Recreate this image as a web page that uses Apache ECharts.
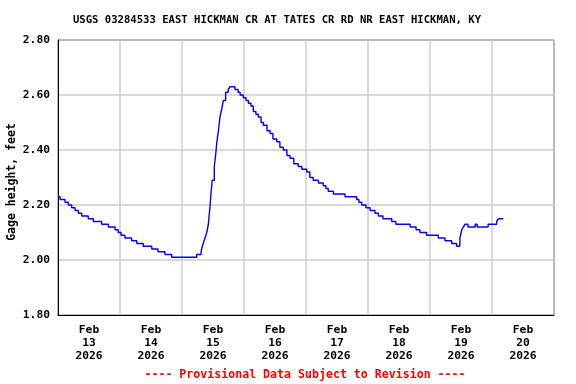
<!DOCTYPE html>
<html>
<head>
<meta charset="utf-8">
<script src="https://cdn.jsdelivr.net/npm/echarts@6/dist/echarts.min.js"></script>
<style>html,body{margin:0;padding:0;background:#fff;}#c{width:576px;height:384px;}</style>
</head>
<body>
<div id="c"></div>
<script>
// Hours since Feb 13 2026 00:00 at which the gage reading changed, and the new reading (ft)
var hours = [0, 0.8, 2.7, 4.0, 5.3, 6.6, 7.9, 9.2, 11.7, 13.7, 16.9, 19.5, 22.1, 23.3, 24.4, 25.9, 28.5, 30.5, 33.0, 36.3, 38.7, 41.4, 44.0,
  53.7, 55.4, 55.6, 56.2, 56.9, 57.6, 58.2, 58.6, 58.8, 59.2, 59.7, 60.5, 61.0, 61.5, 62.1, 62.7, 63.4, 64.0, 64.9, 65.9, 66.6,
  68.5, 69.7, 70.5, 71.7, 72.8, 73.7, 74.7, 75.6, 76.6, 77.5, 78.6, 79.5, 80.9, 82.1, 83.2, 84.7, 85.9, 87.2, 88.6, 89.8, 91.3,
  93.0, 94.4, 96.3, 97.5, 98.8, 100.8, 102.7, 103.7, 104.6, 106.6, 111.1, 115.6, 116.5, 117.6, 119.2, 120.8, 122.7, 124.0, 125.8,
  129.2, 130.8, 136.3, 138.6, 140.1, 142.7, 147.2, 149.8, 152.4, 154.3, 155.5, 155.6, 156.3, 156.9, 157.6, 158.7, 161.5, 162.3,
  166.5, 169.8, 170.5, 172.4];
var gage = [2.23, 2.22, 2.21, 2.20, 2.19, 2.18, 2.17, 2.16, 2.15, 2.14, 2.13, 2.12, 2.11, 2.10, 2.09, 2.08, 2.07, 2.06, 2.05, 2.04, 2.03, 2.02, 2.01,
  2.02, 2.03, 2.04, 2.06, 2.08, 2.10, 2.13, 2.17, 2.19, 2.24, 2.29, 2.34, 2.38, 2.43, 2.47, 2.52, 2.55, 2.58, 2.61, 2.62, 2.63,
  2.62, 2.61, 2.60, 2.59, 2.58, 2.57, 2.56, 2.54, 2.53, 2.52, 2.50, 2.49, 2.47, 2.46, 2.44, 2.43, 2.41, 2.40, 2.38, 2.37, 2.35,
  2.34, 2.33, 2.32, 2.30, 2.29, 2.28, 2.27, 2.26, 2.25, 2.24, 2.23, 2.22, 2.21, 2.20, 2.19, 2.18, 2.17, 2.16, 2.15,
  2.14, 2.13, 2.12, 2.11, 2.10, 2.09, 2.08, 2.07, 2.06, 2.05, 2.05, 2.08, 2.11, 2.12, 2.13, 2.12, 2.13, 2.12,
  2.13, 2.14, 2.15, 2.15];
var dayMonth = 'Feb';
var dayNumbers = [13, 14, 15, 16, 17, 18, 19, 20];
var dayYear = '2026';
var yTicks = [1.80, 2.00, 2.20, 2.40, 2.60, 2.80];
var titleText = 'USGS 03284533 EAST HICKMAN CR AT TATES CR RD NR EAST HICKMAN, KY';
var footerText = '---- Provisional Data Subject to Revision ----';
var yName = 'Gage height, feet';

var font = '"DejaVu Sans Mono", "Liberation Mono", monospace';
var pts = hours.map(function (h, i) { return [h, gage[i]]; });

var chart = echarts.init(document.getElementById('c'), null, {renderer: 'canvas'});
chart.setOption({
  animation: false,
  backgroundColor: '#fff',
  title: [{
    text: titleText, left: 277, top: 15, textAlign: 'center', padding: 0,
    textStyle: {fontFamily: font, fontWeight: 'bold', fontSize: 10.6, color: '#000'}
  }, {
    text: footerText, left: 305, top: 369, textAlign: 'center', padding: 0,
    textStyle: {fontFamily: font, fontWeight: 'bold', fontSize: 11.6, color: '#ff0000'}
  }],
  graphic: [{
    type: 'text', x: 12, y: 182, rotation: Math.PI / 2,
    style: {text: yName, fill: '#000', font: 'bold 11.5px ' + font, textAlign: 'center', textVerticalAlign: 'middle'}
  }],
  grid: {left: 58, right: 22, top: 40, bottom: 69, show: true, borderColor: '#000', borderWidth: 1,
    backgroundColor: 'transparent', containLabel: false, outerBoundsMode: 'none'},
  xAxis: [{
    type: 'value', min: 0, max: 192, interval: 24,
    axisLine: {show: true, lineStyle: {color: '#000', width: 1}},
    axisTick: {show: false}, axisLabel: {show: false},
    splitLine: {show: true, lineStyle: {color: '#cccccc', width: 1.5}}
  }, {
    type: 'value', min: 0, max: 192, interval: 12, position: 'bottom',
    axisLine: {show: false}, axisTick: {show: false}, splitLine: {show: false},
    axisLabel: {
      show: true, margin: 9, lineHeight: 13,
      fontFamily: font, fontWeight: 'bold', fontSize: 11.3, color: '#000',
      formatter: function (v) {
        if (Math.round(v) % 24 !== 12) return '';
        var idx = Math.floor(v / 24);
        return dayMonth + '\n' + dayNumbers[idx] + '\n' + dayYear;
      }
    }
  }],
  yAxis: {
    type: 'value', min: 1.8, max: 2.8, interval: 0.2,
    axisLine: {show: true, lineStyle: {color: '#000', width: 1}},
    axisTick: {show: false},
    axisLabel: {margin: 8, fontFamily: font, fontWeight: 'bold', fontSize: 11.3, color: '#000',
      formatter: function (v) { return v.toFixed(2); }},
    splitLine: {show: true, lineStyle: {color: '#cccccc', width: 1.5}}
  },
  series: [{
    type: 'line', data: pts, step: 'end', showSymbol: false, symbol: 'none',
    lineStyle: {color: '#0000ff', width: 1.4}, xAxisIndex: 0, yAxisIndex: 0
  }]
});
</script>
</body>
</html>
